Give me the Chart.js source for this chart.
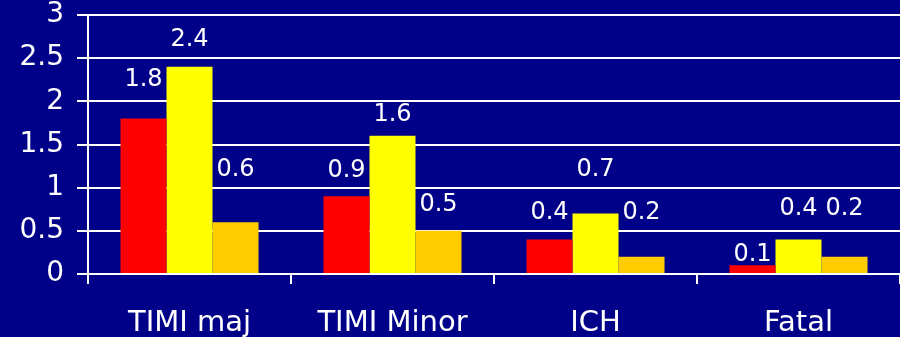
<!DOCTYPE html>
<html>
<head>
<meta charset="utf-8">
<script src="https://cdn.jsdelivr.net/npm/chart.js@4"></script>
<style>
  html, body { margin: 0; padding: 0; background: #000088; }
  #wrap { width: 900px; height: 337px; }
</style>
</head>
<body>
<div id="wrap"><canvas id="myChart"></canvas></div>
<script>
// categories and series
var categories = ["TIMI maj", "TIMI Minor", "ICH", "Fatal"];
var seriesRed = [1.8, 0.9, 0.4, 0.1];
var seriesYellow = [2.4, 1.6, 0.7, 0.4];
var seriesGold = [0.6, 0.5, 0.2, 0.2];
var yTicks = [0, 0.5, 1, 1.5, 2, 2.5, 3];

// how far each value label sits above its bar (px), per series
var labelLift = [
  [39, 26, 27, 11],
  [27, 21, 44, 31],
  [52, 26, 44, 48]
];

var valueLabels = {
  id: "valueLabels",
  afterDatasetsDraw: function (chart) {
    var ctx = chart.ctx;
    ctx.save();
    ctx.fillStyle = "#ffffff";
    ctx.font = "24px 'DejaVu Sans'";
    ctx.textAlign = "center";
    ctx.textBaseline = "middle";
    chart.data.datasets.forEach(function (ds, di) {
      chart.getDatasetMeta(di).data.forEach(function (bar, i) {
        ctx.fillText(String(ds.data[i]), bar.x, bar.y - labelLift[di][i]);
      });
    });
    ctx.restore();
  }
};

new Chart(document.getElementById("myChart"), {
  type: "bar",
  data: {
    labels: categories,
    datasets: [
      { data: seriesRed, backgroundColor: "#ff0000" },
      { data: seriesYellow, backgroundColor: "#ffff00" },
      { data: seriesGold, backgroundColor: "#ffcc00" }
    ]
  },
  options: {
    responsive: true,
    maintainAspectRatio: false,
    animation: false,
    datasets: { bar: { categoryPercentage: 0.68, barPercentage: 1.0 } },
    layout: { padding: { top: 15, right: 0, left: 0, bottom: 0 } },
    plugins: { legend: { display: false }, tooltip: { enabled: false } },
    scales: {
      x: {
        offset: true,
        afterFit: function (axis) {
          axis.height = 63;
          axis.paddingLeft = 0;
          axis.paddingRight = 0;
        },
        grid: {
          offset: true,
          drawOnChartArea: false,
          color: "#ffffff",
          lineWidth: 2,
          tickLength: 10
        },
        border: { color: "#ffffff", width: 2 },
        ticks: { color: "#ffffff", font: { family: "DejaVu Sans", size: 29 }, padding: 22 }
      },
      y: {
        min: 0,
        max: 3,
        afterBuildTicks: function (axis) {
          axis.ticks = yTicks.map(function (v) { return { value: v }; });
        },
        afterFit: function (axis) {
          axis.width = 88;
          axis.paddingTop = 0;
          axis.paddingBottom = 0;
        },
        grid: { color: "#ffffff", lineWidth: 2, tickLength: 11 },
        border: { color: "#ffffff", width: 2 },
        ticks: {
          color: "#ffffff",
          font: { family: "DejaVu Sans", size: 28 },
          padding: 13,
          callback: function (v) { return String(v); }
        }
      }
    }
  },
  plugins: [valueLabels]
});
</script>
</body>
</html>
